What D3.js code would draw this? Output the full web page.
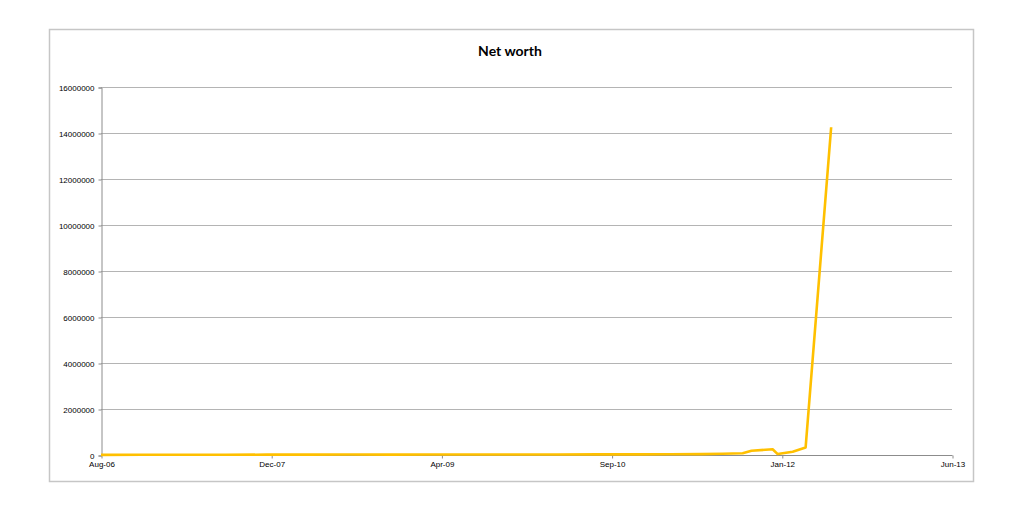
<!DOCTYPE html>
<html>
<head>
<meta charset="utf-8">
<script src="https://cdn.jsdelivr.net/npm/d3@7"></script>
<style>
  html, body { margin: 0; padding: 0; background: #fff; }
  svg { display: block; }
</style>
</head>
<body>
<svg id="chart" width="1024" height="520"></svg>
<script>
// ---- data ----
const dates = [
  "2006-08-01","2006-12-01","2007-04-01","2007-08-01","2007-12-01","2008-04-01",
  "2008-08-01","2008-12-01","2009-04-01","2009-08-01","2009-12-01","2010-04-01",
  "2010-08-01","2010-12-01","2011-03-01","2011-06-01","2011-08-01","2011-09-29",
  "2011-10-25","2011-12-26","2012-01-10","2012-02-23","2012-04-01","2012-06-15"
];
const values = [
  5000, 8000, 10000, 12000, 15000, 18000,
  20000, 18000, 20000, 22000, 24000, 25000,
  26000, 28000, 32000, 40000, 55000, 75000,
  185000, 250000, 40000, 145000, 330000, 14250000
];
const yTicks = [0, 2000000, 4000000, 6000000, 8000000, 10000000, 12000000, 14000000, 16000000];
const xTickDates = ["2006-08-01","2007-12-14","2009-04-27","2010-09-09","2012-01-22","2013-06-05"];
const chartTitle = "Net worth";

// ---- drawing ----
(function () {
const svg = d3.select("#chart");
const parse = d3.timeParse("%Y-%m-%d");
const data = dates.map((d, i) => ({ date: parse(d), value: values[i] }));

const pl = 101, pr = 952, pt = 87, pb = 455;

const x = d3.scaleTime()
  .domain([parse(xTickDates[0]), parse(xTickDates[xTickDates.length - 1])])
  .range([pl, pr]);
const y = d3.scaleLinear().domain([0, 16000000]).range([pb, pt]);

// outer frame
svg.append("rect")
  .attr("x", 49.5).attr("y", 29.5)
  .attr("width", 924).attr("height", 452)
  .attr("fill", "#fff")
  .attr("stroke", "#c6c6c6")
  .attr("stroke-width", 1.5);

// title
svg.append("text")
  .attr("x", 510).attr("y", 56)
  .attr("text-anchor", "middle")
  .attr("font-family", "Lato, 'Open Sans', sans-serif")
  .attr("font-weight", "bold")
  .attr("font-size", 14)
  .attr("fill", "#000")
  .text(chartTitle);

// gridlines
svg.append("g")
  .selectAll("line")
  .data(yTicks.filter(t => t > 0))
  .join("line")
  .attr("x1", pl).attr("x2", pr)
  .attr("y1", d => Math.round(y(d)) + 0.5)
  .attr("y2", d => Math.round(y(d)) + 0.5)
  .attr("stroke", "#b4b4b4")
  .attr("stroke-width", 1);

// y axis
const yAxis = d3.axisLeft(y)
  .tickValues(yTicks)
  .tickFormat(d3.format("d"))
  .tickSize(3)
  .tickPadding(4);
const gy = svg.append("g")
  .attr("transform", `translate(${pl + 0.5},0.5)`)
  .call(yAxis);
gy.select(".domain").attr("stroke", "#8c8c8c");
gy.selectAll(".tick line").attr("stroke", "#8c8c8c");
gy.selectAll(".tick text")
  .attr("font-family", "'Liberation Sans', Arial, sans-serif")
  .attr("font-size", 8)
  .attr("fill", "#000");

// x axis
const xAxis = d3.axisBottom(x)
  .tickValues(xTickDates.map(parse))
  .tickFormat(d3.timeFormat("%b-%y"))
  .tickSize(3)
  .tickPadding(3);
const gx = svg.append("g")
  .attr("transform", `translate(0.5,${pb + 0.5})`)
  .call(xAxis);
gx.select(".domain").attr("stroke", "#8c8c8c").attr("d", `M${pl},0H${pr}`);
gx.selectAll(".tick line").attr("stroke", "#8c8c8c");
gx.selectAll(".tick text")
  .attr("font-family", "'Liberation Sans', Arial, sans-serif")
  .attr("font-size", 8)
  .attr("fill", "#000");

// line
const line = d3.line()
  .x(d => x(d.date))
  .y(d => y(d.value));
svg.append("path")
  .datum(data)
  .attr("d", line)
  .attr("fill", "none")
  .attr("stroke", "#FFC000")
  .attr("stroke-width", 2.6)
  .attr("stroke-linejoin", "round");
})();
</script>
</body>
</html>
